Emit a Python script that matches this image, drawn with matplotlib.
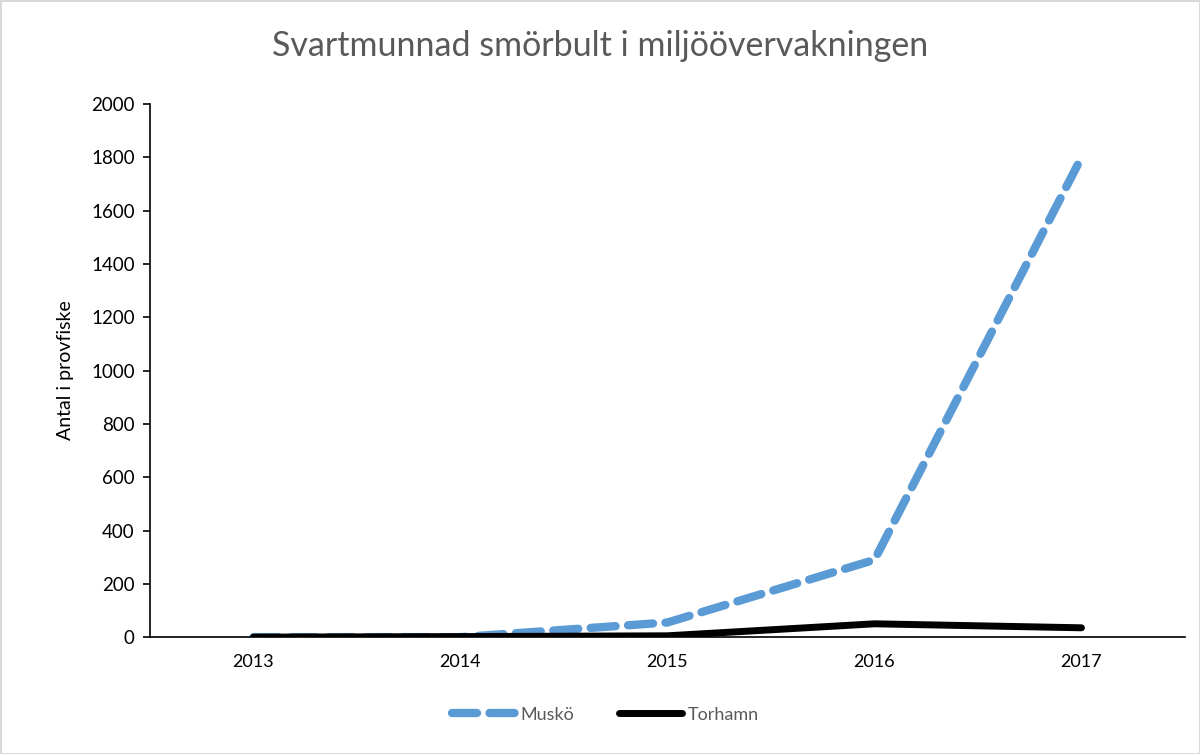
import matplotlib.pyplot as plt
import numpy as np

plt.rcParams['font.family'] = ['Lato', 'DejaVu Sans']

years = ['2013', '2014', '2015', '2016', '2017']
musko = [0, 0, 55, 290, 1800]
torhamn = [0, 2, 5, 50, 35]

x = np.arange(len(years))

fig = plt.figure(figsize=(12, 7.54), dpi=100)
fig.patch.set_edgecolor('#d9d9d9')
fig.patch.set_linewidth(2)
ax = fig.add_axes([0.125, 0.155, 0.8625, 0.707])

ax.plot(x, musko, color='#5b9bd5', linewidth=6, linestyle=(0, (3, 1.5)),
        dash_capstyle='round', label='Muskö')
ax.plot(x, torhamn, color='black', linewidth=5, solid_capstyle='round', label='Torhamn')

ax.set_xlim(-0.5, 4.5)
ax.set_ylim(0, 2000)
ax.set_yticks(np.arange(0, 2001, 200))
ax.set_xticks(x)
ax.set_xticklabels(years)
ax.tick_params(axis='y', direction='out', length=5, width=1.2, labelsize=13.5, pad=6)
ax.tick_params(axis='x', length=0, labelsize=13, pad=12)

for s in ['top', 'right']:
    ax.spines[s].set_visible(False)
ax.spines['left'].set_linewidth(1.2)
ax.spines['bottom'].set_linewidth(1.2)

ax.set_ylabel('Antal i provfiske', fontsize=14, labelpad=12)
fig.suptitle('Svartmunnad smörbult i miljöövervakningen', fontsize=24.5, color='#595959', y=0.96)

ax.legend(loc='upper center', bbox_to_anchor=(0.44, -0.1), ncol=2, frameon=False,
          fontsize=13, handlelength=3.5, handletextpad=0.3, columnspacing=2.5,
          labelcolor='#595959')

plt.savefig('out.png', dpi=100)
